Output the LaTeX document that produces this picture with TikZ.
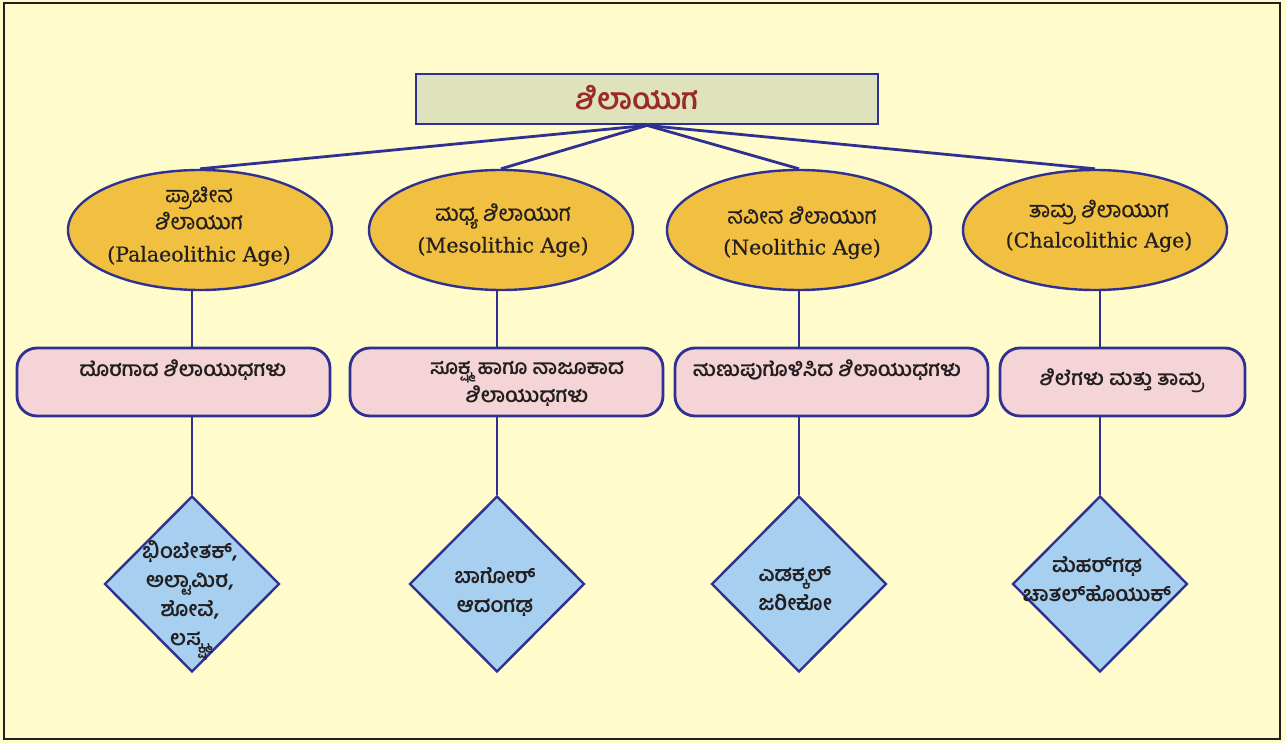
\documentclass[tikz,border=0pt]{standalone}
\usepackage{fontspec}
\usetikzlibrary{shapes.geometric}
\newfontfamily\kn[Script=Kannada]{Hind Mysuru}
\newfontfamily\knm[Script=Kannada,FakeBold=0.5]{Hind Mysuru}
\newfontfamily\en[FakeBold=0.5]{DejaVu Serif}
\definecolor{bgyellow}{HTML}{FFFBCB}
\definecolor{frameblue}{HTML}{2E3192}
\definecolor{titlefill}{HTML}{DFE3BD}
\definecolor{titletext}{HTML}{9B2B2B}
\definecolor{ellfill}{HTML}{F2C040}
\definecolor{boxfill}{HTML}{F5D4D8}
\definecolor{diafill}{HTML}{A6CFF0}
\definecolor{textdark}{HTML}{231F20}
\begin{document}
\begin{tikzpicture}[x=1pt,y=-1pt,
  titlebox/.style={draw=frameblue,line width=2.8pt,fill=titlefill,minimum width=462pt,minimum height=50pt,inner sep=0pt},
  ageell/.style={ellipse,draw=frameblue,line width=2.4pt,fill=ellfill,minimum width=264pt,minimum height=120pt,inner sep=0pt},
  toolbox/.style={draw=frameblue,line width=2.8pt,fill=boxfill,rounded corners=20pt,minimum height=68pt,inner sep=0pt},
  sitedia/.style={diamond,draw=frameblue,line width=2.4pt,fill=diafill,minimum width=175pt,minimum height=176pt,inner sep=0pt},
  link/.style={draw=frameblue,line width=2.8pt},
  agetxt/.style={align=center,text=textdark,font=\knm\fontsize{22}{27}\selectfont,inner sep=0pt},
  engtxt/.style={text=textdark,font=\en\fontsize{20.5}{27}\selectfont,inner sep=0pt},
  tooltxt/.style={align=center,text=textdark,font=\kn\bfseries\fontsize{20.5}{28}\selectfont,inner sep=0pt},
  sitetxt/.style={align=center,text=textdark,font=\kn\bfseries\fontsize{21}{29}\selectfont,inner sep=0pt}
]
\useasboundingbox (0,0) rectangle (1286,743);
\fill[bgyellow] (0,0) rectangle (1286,743);
\draw[textdark,line width=2pt] (4,3) rectangle (1280,739);

% title
\node[titlebox] (title) at (647,99) {};
\node[text=titletext,font=\kn\bfseries\fontsize{29.5}{32}\selectfont,inner sep=0pt] (titlet) at (637,98) {ಶಿಲಾಯುಗ};

% ellipses
\node[ageell] (e1) at (200,230) {};
\node[ageell] (e2) at (501,230) {};
\node[ageell] (e3) at (799,230) {};
\node[ageell] (e4) at (1095,230) {};

% boxes
\node[toolbox,minimum width=313pt] (b1) at (173.5,382) {};
\node[toolbox,minimum width=313pt] (b2) at (506.5,382) {};
\node[toolbox,minimum width=313pt] (b3) at (831.5,382) {};
\node[toolbox,minimum width=245pt] (b4) at (1122.5,382) {};

% diamonds
\node[sitedia] (d1) at (192,584) {};
\node[sitedia] (d2) at (497,584) {};
\node[sitedia] (d3) at (799,584) {};
\node[sitedia] (d4) at (1100,584) {};

% connectors
\draw[link] (title.south) -- (e1.north);
\draw[link] (title.south) -- (e2.north);
\draw[link] (title.south) -- (e3.north);
\draw[link] (title.south) -- (e4.north);
\foreach \i in {1,2,3,4}{
  \draw[link] (d\i.north |- e\i.south) -- (d\i.north |- b\i.north);
  \draw[link] (d\i.north |- b\i.south) -- (d\i.north);
}

% ellipse texts
\node[agetxt] (e1k) at (199,208) {ಪ್ರಾಚೀನ\\ಶಿಲಾಯುಗ};
\node[engtxt] (e1e) at (199,256) {(Palaeolithic Age)};
\node[agetxt] (e2k) at (503,216) {ಮಧ್ಯ ಶಿಲಾಯುಗ};
\node[engtxt] (e2e) at (503,247) {(Mesolithic Age)};
\node[agetxt] (e3k) at (802,215) {ನವೀನ ಶಿಲಾಯುಗ};
\node[engtxt] (e3e) at (802,249) {(Neolithic Age)};
\node[agetxt] (e4k) at (1099,212) {ತಾಮ್ರ ಶಿಲಾಯುಗ};
\node[engtxt] (e4e) at (1099,242) {(Chalcolithic Age)};

% box texts
\node[tooltxt] (b1t) at (183,370) {ದೊರಗಾದ ಶಿಲಾಯುಧಗಳು};
\node[tooltxt] (b2t) at (527,384) {ಸೂಕ್ಷ್ಮ ಹಾಗೂ ನಾಜೂಕಾದ\\ಶಿಲಾಯುಧಗಳು};
\node[tooltxt] (b3t) at (827,370) {ನುಣುಪುಗೊಳಿಸಿದ ಶಿಲಾಯುಧಗಳು};
\node[tooltxt] (b4t) at (1122,381) {ಶಿಲೆಗಳು ಮತ್ತು ತಾಮ್ರ};

% diamond texts
\node[sitetxt] (d1t) at (190,600) {ಭಿಂಬೇತಕ್,\\ಅಲ್ಟಾಮಿರ,\\ಶೋವೆ,\\ಲಸ್ಕ್ಷ್ಮ};
\node[sitetxt] (d2t) at (495,592) {ಬಾಗೋರ್\\ಆದಂಗಢ};
\node[sitetxt] (d3t) at (795,589) {ಎಡಕ್ಕಲ್\\ಜರೀಕೋ};
\node[sitetxt] (d4t) at (1097,579) {ಮೆಹರ್^^^^200cಗಢ\\ಚಾತಲ್^^^^200cಹೊಯುಕ್};
\end{tikzpicture}
\end{document}
